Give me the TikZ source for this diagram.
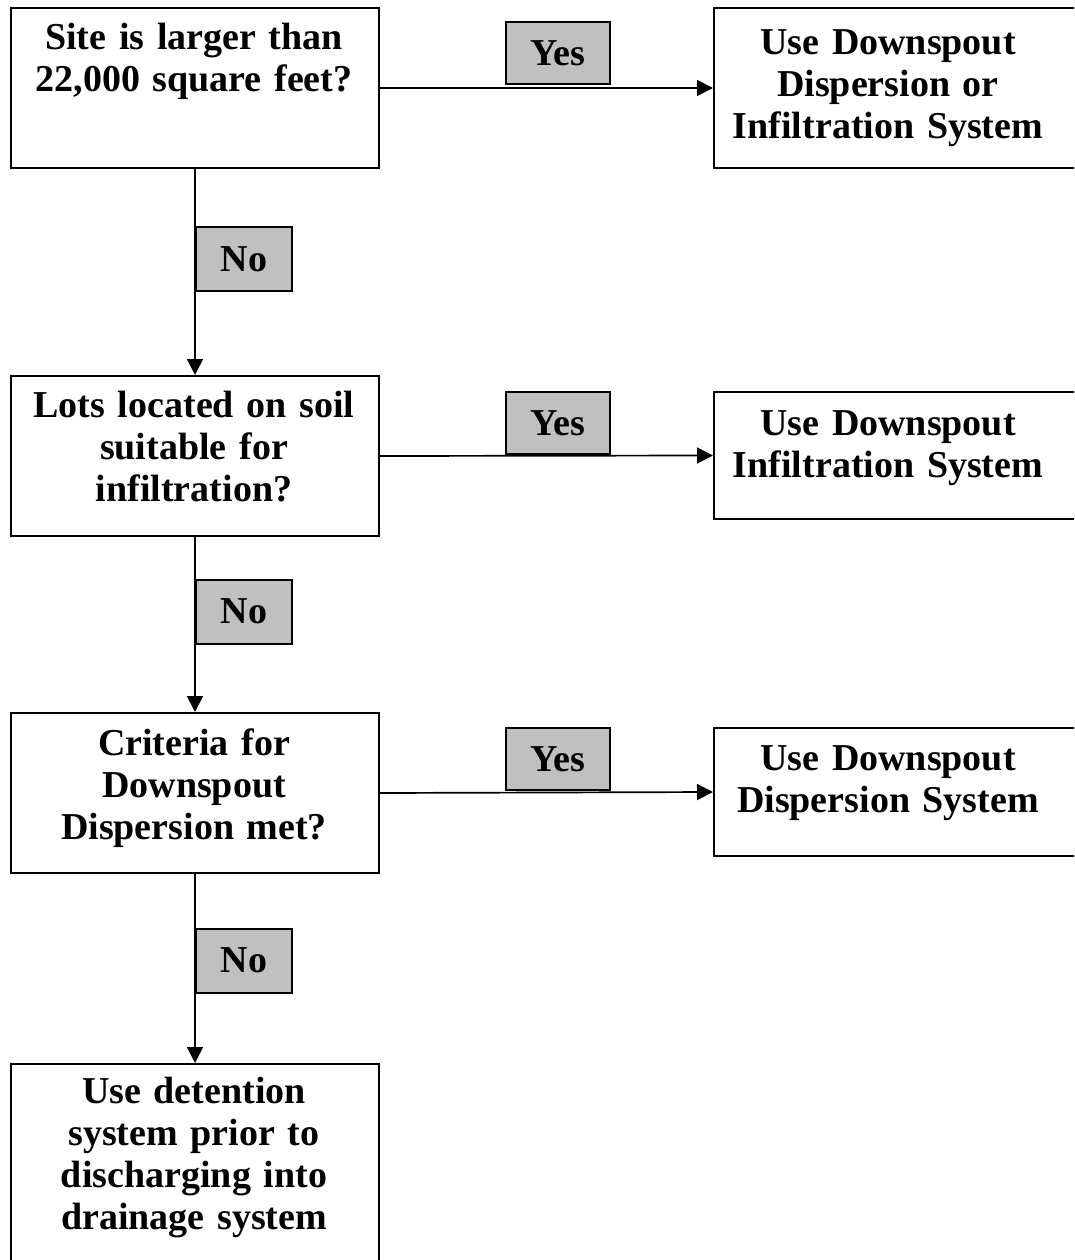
\documentclass[tikz,border=0pt]{standalone}
\usepackage{fontspec}
\setmainfont{Liberation Serif}
\usetikzlibrary{arrows.meta}
\definecolor{labgray}{HTML}{C0C0C0}
\begin{document}
\begin{tikzpicture}[x=1pt,y=-1pt,
  box/.style={draw=black,line width=2pt,fill=white,anchor=north west,inner sep=0pt},
  txt/.style={anchor=base,text width=#1,align=center,inner sep=0pt,font=\fontsize{38}{42}\selectfont\bfseries},
  lab/.style={draw=black,line width=2pt,fill=labgray,minimum width=104pt,minimum height=62pt,inner sep=0pt,font=\fontsize{38}{42}\selectfont\bfseries},
  arr/.style={line width=1.7pt,-{Triangle[length=16pt,width=16pt]}}]
\useasboundingbox (0,0) rectangle (1074,1260);
\clip (0,0) rectangle (1074,1260);
% decision boxes
\node[box,minimum width=368pt,minimum height=160pt] (q1) at (10,7) {};
\node[box,minimum width=368pt,minimum height=160pt] (q2) at (10,375) {};
\node[box,minimum width=368pt,minimum height=160pt] (q3) at (10,712) {};
\node[box,minimum width=368pt,minimum height=260pt] (q4) at (10,1063) {};
% result boxes
\node[box,minimum width=390pt,minimum height=160pt] (r1) at (713,7) {};
\node[box,minimum width=390pt,minimum height=127pt] (r2) at (713,391) {};
\node[box,minimum width=390pt,minimum height=128pt] (r3) at (713,727) {};
% texts
\node[txt=360pt] (q1t) at (194,50) {Site is larger than\\22,000 square feet?};
\node[txt=360pt] (q2t) at (194,417) {Lots located on soil\\suitable for\\infiltration?};
\node[txt=360pt] (q3t) at (194,755) {Criteria for\\Downspout\\Dispersion met?};
\node[txt=360pt] (q4t) at (194,1103) {Use detention\\system prior to\\discharging into\\drainage system};
\node[txt=350pt] (r1t) at (888,55) {Use Downspout\\Dispersion or\\Infiltration System};
\node[txt=350pt] (r2t) at (888,435) {Use Downspout\\Infiltration System};
\node[txt=350pt] (r3t) at (888,770) {Use Downspout\\Dispersion System};
% connectors
\draw[arr] (q1.east) -- (r1.west);
\draw[arr] (q2.east) -- (r2.west);
\draw[arr] (q3.east) -- (r3.west);
\draw[arr] (q1.south) -- (q2.north);
\draw[arr] (q2.south) -- (q3.north);
\draw[arr] (q3.south) -- (q4.north);
% labels
\node[lab] (y1) at (558,53.5) {Yes};
\node[lab] (y2) at (558,423) {Yes};
\node[lab] (y3) at (558,759) {Yes};
\node[lab,minimum width=96pt,minimum height=64pt] (n1) at (244,259) {No};
\node[lab,minimum width=96pt,minimum height=64pt] (n2) at (244,611.5) {No};
\node[lab,minimum width=96pt,minimum height=64pt] (n3) at (244,960.5) {No};
\end{tikzpicture}
\end{document}
